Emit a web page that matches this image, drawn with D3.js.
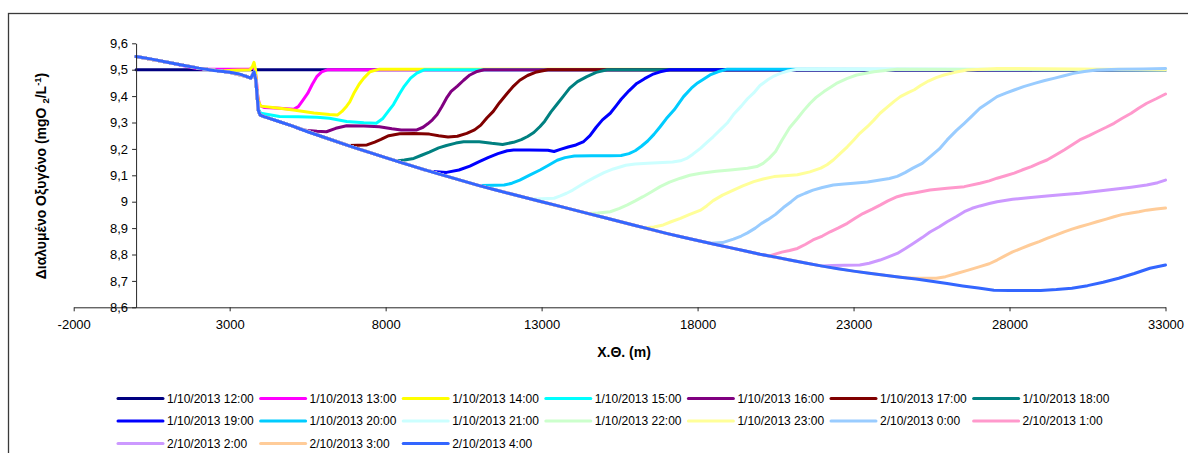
<!DOCTYPE html>
<html>
<head>
<meta charset="utf-8">
<script src="https://cdn.jsdelivr.net/npm/d3@7"></script>
<style>
  html, body { margin: 0; padding: 0; background: #ffffff; }
  svg { display: block; font-family: "Liberation Sans", Arial, sans-serif; }
</style>
</head>
<body>
<svg id="chart" width="1188" height="453"></svg>
<script>
// ---- Axis ticks and labels ----
const xTicks = [-2000, 3000, 8000, 13000, 18000, 23000, 28000, 33000];
const xTickLabels = ["-2000", "3000", "8000", "13000", "18000", "23000", "28000", "33000"];
const yTicks = [8.6, 8.7, 8.8, 8.9, 9.0, 9.1, 9.2, 9.3, 9.4, 9.5, 9.6];
const yTickLabels = ["8,6", "8,7", "8,8", "8,9", "9", "9,1", "9,2", "9,3", "9,4", "9,5", "9,6"];

// ---- Series (time of the profile) ----
const seriesNames = [
  "1/10/2013 12:00", "1/10/2013 13:00", "1/10/2013 14:00", "1/10/2013 15:00",
  "1/10/2013 16:00", "1/10/2013 17:00", "1/10/2013 18:00", "1/10/2013 19:00",
  "1/10/2013 20:00", "1/10/2013 21:00", "1/10/2013 22:00", "1/10/2013 23:00",
  "2/10/2013 0:00", "2/10/2013 1:00", "2/10/2013 2:00", "2/10/2013 3:00",
  "2/10/2013 4:00"
];
const seriesColors = [
  "#000080", "#FF00FF", "#FFFF00", "#00FFFF", "#800080", "#800000", "#008080",
  "#0000FF", "#00CCFF", "#CCFFFF", "#CCFFCC", "#FFFF99", "#99CCFF", "#FF99CC",
  "#CC99FF", "#FFCC99", "#3366FF"
];

// ---- Dissolved oxygen profiles: [chainage (m), DO (mg/L)] ----
const t1200 = [[0,9.5],[33000,9.5]];
const t1300 = [[0,9.55],[1000,9.528],[1900,9.505],[2200,9.502],[3650,9.502],[3780,9.51],[3850,9.47],[3900,9.40],[3960,9.365],[4100,9.357],[4600,9.354],[5050,9.35],[5200,9.36],[5350,9.385],[5500,9.41],[5650,9.445],[5800,9.475],[5950,9.492],[6150,9.5],[33000,9.5]];
const t1400 = [[0,9.55],[1000,9.528],[2000,9.506],[2700,9.495],[3100,9.498],[3650,9.5],[3730,9.512],[3780,9.528],[3830,9.5],[3870,9.43],[3920,9.38],[4000,9.362],[4600,9.354],[5100,9.346],[5700,9.336],[6200,9.33],[6450,9.328],[6600,9.342],[6750,9.362],[6850,9.378],[7000,9.415],[7150,9.445],[7300,9.468],[7500,9.492],[7800,9.502],[33000,9.5]];
const t1500 = [[0,9.55],[1000,9.528],[2000,9.506],[3000,9.49],[3550,9.474],[3680,9.468],[3780,9.492],[3840,9.46],[3880,9.40],[3920,9.35],[4000,9.335],[4600,9.323],[5200,9.322],[5800,9.32],[6200,9.316],[6750,9.304],[7300,9.299],[7700,9.297],[7900,9.314],[8100,9.345],[8250,9.368],[8450,9.41],[8600,9.438],[8800,9.468],[9000,9.487],[9250,9.5],[33000,9.5]];
const t1600 = [[0,9.55],[1000,9.528],[2000,9.506],[3000,9.49],[3550,9.474],[3680,9.468],[3780,9.492],[3840,9.46],[3880,9.40],[3920,9.345],[3980,9.328],[4100,9.322],[5000,9.287],[5300,9.273],[5500,9.27],[5800,9.267],[6100,9.265],[6400,9.278],[6750,9.288],[7300,9.287],[7800,9.284],[8200,9.276],[8500,9.272],[9000,9.272],[9200,9.282],[9350,9.295],[9500,9.31],[9650,9.33],[9800,9.36],[9950,9.392],[10100,9.418],[10300,9.438],[10500,9.46],[10700,9.48],[10900,9.492],[11150,9.5],[33000,9.5]];
const t1700 = [[0,9.55],[1000,9.528],[2000,9.506],[3000,9.49],[3550,9.474],[3680,9.468],[3780,9.492],[3840,9.46],[3880,9.40],[3920,9.345],[3980,9.328],[4100,9.322],[5000,9.287],[6000,9.245],[6800,9.213],[7100,9.214],[7400,9.215],[7650,9.226],[7850,9.236],[8100,9.25],[8450,9.257],[8900,9.258],[9400,9.256],[9700,9.25],[10000,9.245],[10300,9.248],[10600,9.259],[10850,9.272],[11050,9.29],[11250,9.318],[11450,9.342],[11650,9.375],[11880,9.408],[12100,9.438],[12300,9.46],[12550,9.478],[12800,9.49],[13200,9.5],[33000,9.5]];
const t1800 = [[0,9.55],[1000,9.528],[2000,9.506],[3000,9.49],[3550,9.474],[3680,9.468],[3780,9.492],[3840,9.46],[3880,9.40],[3920,9.345],[3980,9.328],[4100,9.322],[5000,9.287],[6000,9.245],[7000,9.205],[8000,9.167],[8350,9.154],[8600,9.158],[8900,9.164],[9150,9.176],[9400,9.188],[9700,9.204],[9950,9.213],[10250,9.222],[10500,9.227],[11000,9.227],[11400,9.221],[11750,9.217],[12100,9.225],[12350,9.235],[12550,9.247],[12750,9.262],[12950,9.285],[13100,9.305],[13300,9.34],[13500,9.37],[13700,9.4],[13900,9.43],[14150,9.455],[14450,9.474],[14750,9.49],[15100,9.5],[33000,9.5]];
const t1900 = [[0,9.55],[1000,9.528],[2000,9.506],[3000,9.49],[3550,9.474],[3680,9.468],[3780,9.492],[3840,9.46],[3880,9.40],[3920,9.345],[3980,9.328],[4100,9.322],[5000,9.287],[6000,9.245],[7000,9.205],[8000,9.167],[9000,9.13],[9200,9.122],[9500,9.114],[9950,9.111],[10350,9.12],[10700,9.135],[11000,9.152],[11300,9.168],[11600,9.182],[11900,9.193],[12100,9.196],[12600,9.196],[13200,9.195],[13400,9.19],[13600,9.198],[13850,9.207],[14100,9.215],[14350,9.228],[14550,9.25],[14750,9.282],[14950,9.31],[15200,9.335],[15400,9.365],[15550,9.388],[15800,9.42],[16050,9.448],[16300,9.466],[16550,9.482],[16800,9.492],[17100,9.5],[33000,9.5]];
const t2000 = [[0,9.55],[1000,9.528],[2000,9.506],[3000,9.49],[3550,9.474],[3680,9.468],[3780,9.492],[3840,9.46],[3880,9.40],[3920,9.345],[3980,9.328],[4100,9.322],[5000,9.287],[6000,9.245],[7000,9.205],[8000,9.167],[9000,9.13],[10000,9.095],[11000,9.061],[11500,9.062],[11800,9.063],[12050,9.07],[12300,9.082],[12600,9.1],[12950,9.12],[13250,9.14],[13500,9.157],[13750,9.167],[14050,9.173],[14600,9.174],[15200,9.174],[15550,9.175],[15800,9.182],[16000,9.193],[16200,9.21],[16400,9.23],[16600,9.255],[16800,9.284],[17000,9.315],[17250,9.348],[17550,9.398],[17800,9.43],[18000,9.45],[18200,9.465],[18400,9.48],[18650,9.492],[18950,9.502],[33000,9.5]];
const t2100 = [[0,9.55],[1000,9.528],[2000,9.506],[3000,9.49],[3550,9.474],[3680,9.468],[3780,9.492],[3840,9.46],[3880,9.40],[3920,9.345],[3980,9.328],[4100,9.322],[5000,9.287],[6000,9.245],[7000,9.205],[8000,9.167],[9000,9.13],[10000,9.095],[11000,9.061],[12000,9.03],[12650,9.01],[13000,9.011],[13400,9.013],[13600,9.022],[13800,9.032],[14000,9.044],[14250,9.062],[14450,9.076],[14700,9.092],[15000,9.11],[15300,9.124],[15700,9.138],[16000,9.143],[16400,9.146],[17200,9.15],[17450,9.155],[17650,9.164],[17850,9.18],[18100,9.203],[18300,9.225],[18500,9.246],[18750,9.275],[18950,9.298],[19150,9.33],[19400,9.362],[19600,9.39],[19800,9.412],[20000,9.44],[20250,9.462],[20450,9.476],[20650,9.486],[20900,9.495],[21200,9.502],[33000,9.5]];
const t2200 = [[0,9.55],[1000,9.528],[2000,9.506],[3000,9.49],[3550,9.474],[3680,9.468],[3780,9.492],[3840,9.46],[3880,9.40],[3920,9.345],[3980,9.328],[4100,9.322],[5000,9.287],[6000,9.245],[7000,9.205],[8000,9.167],[9000,9.13],[10000,9.095],[11000,9.061],[12000,9.03],[13000,9.0],[14000,8.97],[14500,8.955],[14800,8.957],[15200,8.962],[15500,8.975],[15750,8.988],[16000,9.003],[16250,9.019],[16500,9.036],[16800,9.057],[17100,9.074],[17450,9.089],[17750,9.1],[18100,9.108],[18600,9.115],[19050,9.12],[19600,9.127],[19900,9.133],[20100,9.145],[20300,9.165],[20500,9.19],[20700,9.232],[20950,9.28],[21200,9.315],[21400,9.345],[21600,9.372],[21800,9.395],[22050,9.417],[22450,9.448],[22800,9.467],[23100,9.48],[23650,9.492],[24400,9.502],[33000,9.5]];
const t2300 = [[0,9.55],[1000,9.528],[2000,9.506],[3000,9.49],[3550,9.474],[3680,9.468],[3780,9.492],[3840,9.46],[3880,9.40],[3920,9.345],[3980,9.328],[4100,9.322],[5000,9.287],[6000,9.245],[7000,9.205],[8000,9.167],[9000,9.13],[10000,9.095],[11000,9.061],[12000,9.03],[13000,9.0],[14000,8.97],[15000,8.94],[16000,8.91],[16300,8.901],[16600,8.904],[16900,8.912],[17150,8.924],[17450,8.937],[17750,8.952],[18100,8.968],[18300,8.985],[18500,9.004],[18800,9.025],[19150,9.044],[19450,9.06],[19800,9.076],[20100,9.086],[20450,9.095],[20800,9.098],[21200,9.102],[21600,9.113],[21950,9.127],[22150,9.14],[22350,9.158],[22550,9.18],[22800,9.208],[23000,9.233],[23200,9.259],[23450,9.285],[23650,9.309],[23850,9.335],[24100,9.36],[24300,9.38],[24500,9.398],[24750,9.413],[24950,9.424],[25150,9.44],[25400,9.457],[25650,9.47],[25900,9.48],[26250,9.49],[26650,9.499],[27600,9.505],[33000,9.5]];
const t0000 = [[0,9.55],[1000,9.528],[2000,9.506],[3000,9.49],[3550,9.474],[3680,9.468],[3780,9.492],[3840,9.46],[3880,9.40],[3920,9.345],[3980,9.328],[4100,9.322],[5000,9.287],[6000,9.245],[7000,9.205],[8000,9.167],[9000,9.13],[10000,9.095],[11000,9.061],[12000,9.03],[13000,9.0],[14000,8.97],[15000,8.94],[16000,8.91],[17000,8.88],[18000,8.853],[18400,8.843],[18800,8.845],[19150,8.858],[19400,8.87],[19600,8.882],[19850,8.9],[20050,8.918],[20250,8.932],[20500,8.952],[20750,8.978],[21000,9.0],[21200,9.019],[21450,9.032],[21700,9.044],[22000,9.054],[22350,9.063],[22700,9.067],[23000,9.07],[23450,9.075],[23850,9.082],[24150,9.088],[24400,9.096],[24650,9.11],[24900,9.127],[25200,9.145],[25450,9.17],[25750,9.2],[26000,9.234],[26300,9.27],[26550,9.297],[26800,9.325],[27050,9.354],[27350,9.378],[27600,9.398],[27900,9.412],[28150,9.423],[28450,9.436],[28800,9.448],[29100,9.458],[29450,9.468],[29750,9.477],[30050,9.486],[30400,9.493],[30800,9.499],[31500,9.502],[32300,9.503],[33000,9.505]];
const t0100 = [[0,9.55],[1000,9.528],[2000,9.506],[3000,9.49],[3550,9.474],[3680,9.468],[3780,9.492],[3840,9.46],[3880,9.40],[3920,9.345],[3980,9.328],[4100,9.322],[5000,9.287],[6000,9.245],[7000,9.205],[8000,9.167],[9000,9.13],[10000,9.095],[11000,9.061],[12000,9.03],[13000,9.0],[14000,8.97],[15000,8.94],[16000,8.91],[17000,8.88],[18000,8.853],[19000,8.827],[20000,8.801],[20300,8.795],[20700,8.809],[20950,8.815],[21200,8.823],[21450,8.838],[21700,8.855],[22000,8.87],[22250,8.886],[22500,8.9],[22800,8.918],[23050,8.937],[23300,8.955],[23600,8.972],[23850,8.987],[24100,9.003],[24400,9.019],[24650,9.027],[24950,9.033],[25450,9.044],[26000,9.051],[26550,9.057],[27050,9.07],[27350,9.079],[27600,9.089],[27900,9.099],[28150,9.108],[28400,9.12],[28700,9.133],[28950,9.146],[29200,9.158],[29450,9.175],[29750,9.196],[30000,9.215],[30250,9.234],[30550,9.25],[30800,9.265],[31100,9.282],[31350,9.297],[31600,9.315],[31900,9.335],[32150,9.355],[32400,9.373],[32700,9.39],[33000,9.408]];
const t0200 = [[0,9.55],[1000,9.528],[2000,9.506],[3000,9.49],[3550,9.474],[3680,9.468],[3780,9.492],[3840,9.46],[3880,9.40],[3920,9.345],[3980,9.328],[4100,9.322],[5000,9.287],[6000,9.245],[7000,9.205],[8000,9.167],[9000,9.13],[10000,9.095],[11000,9.061],[12000,9.03],[13000,9.0],[14000,8.97],[15000,8.94],[16000,8.91],[17000,8.88],[18000,8.853],[19000,8.827],[20000,8.801],[21000,8.778],[22000,8.756],[22300,8.758],[22700,8.759],[23200,8.76],[23500,8.767],[23850,8.779],[24100,8.79],[24400,8.804],[24650,8.822],[24900,8.841],[25200,8.864],[25450,8.885],[25750,8.905],[26000,8.924],[26300,8.944],[26550,8.962],[26800,8.975],[27050,8.984],[27350,8.993],[27600,9.0],[28100,9.009],[28600,9.015],[29200,9.022],[29750,9.027],[30250,9.032],[30800,9.04],[31350,9.047],[31900,9.055],[32400,9.063],[32750,9.072],[33000,9.082]];
const t0300 = [[0,9.55],[1000,9.528],[2000,9.506],[3000,9.49],[3550,9.474],[3680,9.468],[3780,9.492],[3840,9.46],[3880,9.40],[3920,9.345],[3980,9.328],[4100,9.322],[5000,9.287],[6000,9.245],[7000,9.205],[8000,9.167],[9000,9.13],[10000,9.095],[11000,9.061],[12000,9.03],[13000,9.0],[14000,8.97],[15000,8.94],[16000,8.91],[17000,8.88],[18000,8.853],[19000,8.827],[20000,8.801],[21000,8.778],[22000,8.756],[23000,8.737],[24000,8.721],[24300,8.717],[24700,8.712],[25000,8.71],[25650,8.71],[25950,8.716],[26300,8.728],[26650,8.74],[27050,8.754],[27350,8.765],[27600,8.779],[27850,8.795],[28100,8.81],[28400,8.824],[28650,8.836],[28950,8.849],[29200,8.861],[29500,8.874],[29750,8.886],[30000,8.896],[30250,8.905],[30550,8.915],[30800,8.924],[31100,8.934],[31350,8.943],[31600,8.951],[31900,8.957],[32150,8.962],[32400,8.968],[32700,8.972],[33000,8.976]];
const t0400 = [[0,9.55],[500,9.54],[1000,9.528],[1500,9.517],[2000,9.506],[2500,9.497],[3000,9.49],[3300,9.484],[3550,9.474],[3680,9.468],[3780,9.492],[3840,9.46],[3880,9.40],[3920,9.345],[3980,9.328],[4100,9.322],[4600,9.303],[5000,9.287],[5500,9.265],[6000,9.245],[6500,9.225],[7000,9.205],[7500,9.186],[8000,9.167],[8500,9.148],[9000,9.13],[9500,9.112],[10000,9.095],[10500,9.078],[11000,9.061],[11500,9.045],[12000,9.03],[12500,9.015],[13000,9.0],[13500,8.985],[14000,8.97],[14500,8.955],[15000,8.94],[15500,8.925],[16000,8.91],[16500,8.895],[17000,8.88],[17500,8.866],[18000,8.853],[18500,8.84],[19000,8.827],[19500,8.814],[20000,8.801],[20500,8.79],[21000,8.778],[21500,8.767],[22000,8.756],[22500,8.746],[23000,8.737],[23500,8.729],[24000,8.721],[24500,8.714],[25000,8.707],[25500,8.699],[26000,8.69],[26500,8.681],[27000,8.673],[27500,8.665],[28000,8.664],[28500,8.664],[29000,8.664],[29500,8.667],[30000,8.672],[30500,8.682],[31000,8.695],[31500,8.71],[32000,8.728],[32500,8.748],[33000,8.76]];

const seriesData = [t1200, t1300, t1400, t1500, t1600, t1700, t1800, t1900, t2000,
                    t2100, t2200, t2300, t0000, t0100, t0200, t0300, t0400];

// ---- Layout ----
const svg = d3.select("#chart");
const axisColor = "#262626";
const x = d3.scaleLinear().domain([-2000, 33000]).range([73.7, 1165.5]);
const y = d3.scaleLinear().domain([8.6, 9.6]).range([307.3, 43.3]);

// outer chart frame (continues past the right and bottom edges)
svg.append("rect")
  .attr("x", 8.5).attr("y", 13.5)
  .attr("width", 1300).attr("height", 600)
  .attr("fill", "none").attr("stroke", "#3a3a3a").attr("stroke-width", 1.3);

// plot lines, clipped to the plot area
svg.append("clipPath").attr("id", "plotClip")
  .append("rect").attr("x", x(-2000)).attr("y", y(9.6) - 3)
  .attr("width", x(33000) - x(-2000) + 3).attr("height", y(8.6) - y(9.6) + 3);

const line = d3.line().x(d => x(d[0])).y(d => y(d[1]));
svg.append("g").attr("clip-path", "url(#plotClip)")
  .selectAll("path").data(seriesData).join("path")
  .attr("d", line)
  .attr("fill", "none")
  .attr("stroke", (d, i) => seriesColors[i])
  .attr("stroke-width", 3)
  .attr("stroke-linejoin", "round")
  .attr("stroke-linecap", "round");

// x axis along DO = 8.6
const xAxis = svg.append("g")
  .attr("transform", `translate(0,${y(8.6)})`)
  .call(d3.axisBottom(x).tickValues(xTicks)
    .tickFormat((d, i) => xTickLabels[i]).tickSize(4).tickSizeOuter(0).tickPadding(8.5));
xAxis.select(".domain").attr("stroke", axisColor);
xAxis.selectAll(".tick line").attr("stroke", axisColor);
xAxis.selectAll("text").attr("font-family", "Liberation Sans, Arial, sans-serif")
  .attr("font-size", 13).attr("fill", "#000");

// y axis crossing at chainage 0
const yAxis = svg.append("g")
  .attr("transform", `translate(${x(0)},0)`)
  .call(d3.axisLeft(y).tickValues(yTicks)
    .tickFormat((d, i) => yTickLabels[i]).tickSize(4).tickSizeOuter(0).tickPadding(4));
yAxis.select(".domain").attr("stroke", axisColor);
yAxis.selectAll(".tick line").attr("stroke", axisColor);
yAxis.selectAll("text").attr("font-family", "Liberation Sans, Arial, sans-serif")
  .attr("font-size", 13).attr("fill", "#000");

// axis titles
const yTitle = svg.append("text")
  .attr("transform", "translate(46,176) rotate(-90)")
  .attr("text-anchor", "middle")
  .attr("font-weight", "bold").attr("font-size", 14).attr("fill", "#000");
yTitle.append("tspan").text("Διαλυμένο Οξυγόνο (mgO ");
yTitle.append("tspan").attr("font-size", 9.5).attr("dy", 3).text("2");
yTitle.append("tspan").attr("dy", -3).text("/L");
yTitle.append("tspan").attr("font-size", 9.5).attr("dy", -5.5).text("-1");
yTitle.append("tspan").attr("dy", 5.5).text(")");

svg.append("text")
  .attr("x", 624).attr("y", 357)
  .attr("text-anchor", "middle")
  .attr("font-weight", "bold").attr("font-size", 14).attr("fill", "#000")
  .text("Χ.Θ. (m)");

// legend: 7 columns, 3 rows
const legendCols = 7, colStep = 142.6, rowStep = 22.5;
const legend = svg.append("g").attr("transform", "translate(118,398.5)");
const items = legend.selectAll("g").data(seriesNames).join("g")
  .attr("transform", (d, i) => `translate(${(i % legendCols) * colStep},${Math.floor(i / legendCols) * rowStep})`);
items.append("line")
  .attr("x1", 0).attr("x2", 45).attr("y1", 0).attr("y2", 0)
  .attr("stroke", (d, i) => seriesColors[i]).attr("stroke-width", 3)
  .attr("stroke-linecap", "round");
items.append("text")
  .attr("x", 49).attr("y", 0).attr("dy", "0.35em")
  .attr("font-size", 12).attr("fill", "#000")
  .text(d => d);
</script>
</body>
</html>
